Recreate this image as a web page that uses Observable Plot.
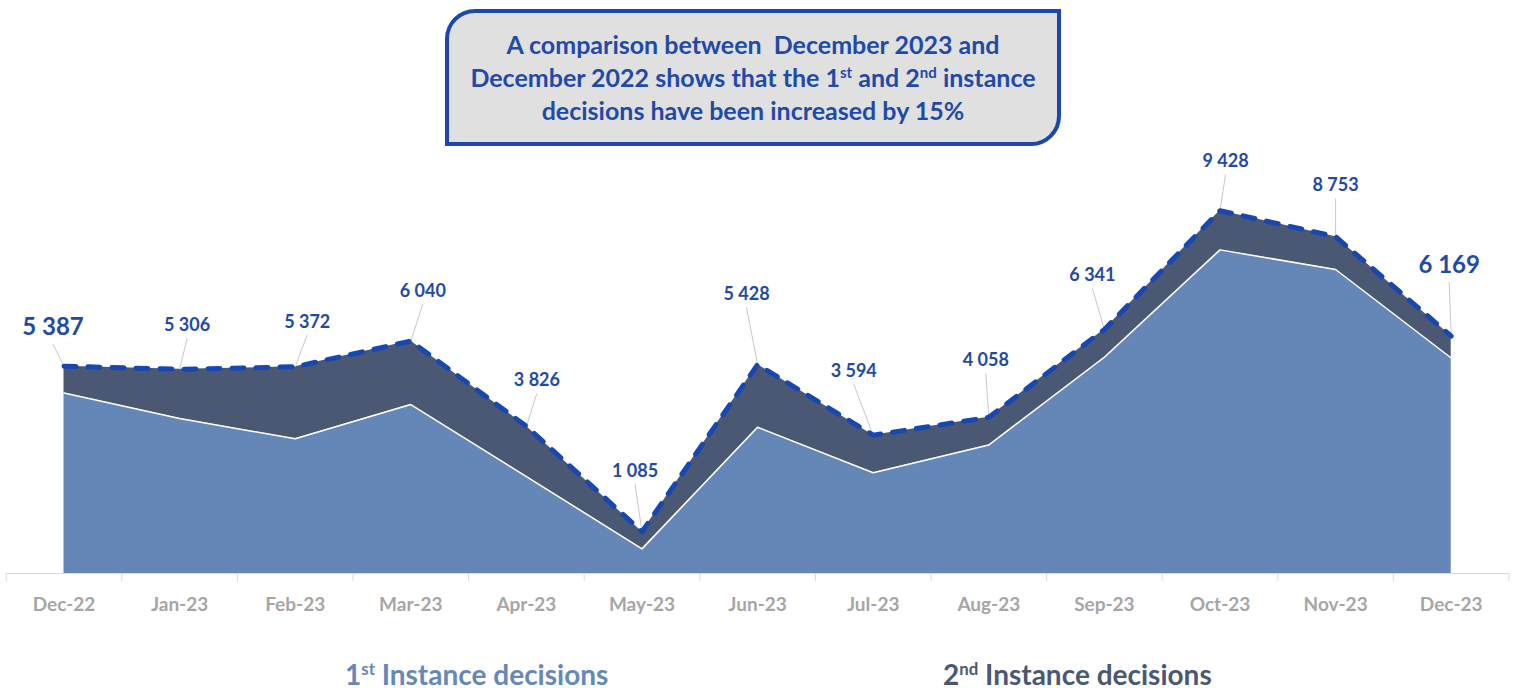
<!DOCTYPE html>
<html><head><meta charset="utf-8">
<script src="https://cdn.jsdelivr.net/npm/d3@7"></script>
<script src="https://cdn.jsdelivr.net/npm/@observablehq/plot@0.6"></script>
<style>
html,body{margin:0;padding:0;background:#fff;}
body{width:1533px;height:688px;overflow:hidden;font-family:Lato,"Open Sans",sans-serif;}
#title{position:relative;height:150px;}
#box{position:absolute;left:445px;top:9px;width:616px;height:137px;box-sizing:border-box;border:4px solid #1c48ae;background:#e0e0e0;border-radius:30px 0 30px 0;display:flex;align-items:center;justify-content:center;text-align:center;color:#1f4aa8;font-weight:700;font-size:25px;line-height:33px;}
#chart{height:480px;}
#legend{position:relative;height:58px;}
.leg{position:absolute;top:29px;font-weight:700;font-size:28px;line-height:30px;white-space:nowrap;}
sup{font-size:60%;line-height:0;vertical-align:super;}
</style></head>
<body>
<div id="title"><div id="box"><div>A comparison between&nbsp; December 2023 and<br>December 2022 shows that the 1<sup>st</sup> and 2<sup>nd</sup> instance<br>decisions have been increased by 15%</div></div></div>
<div id="chart"></div>
<div id="legend">
<span class="leg" style="left:345px;color:#6688b8">1<sup>st</sup> Instance decisions</span>
<span class="leg" style="left:943px;color:#4a5874">2<sup>nd</sup> Instance decisions</span>
</div>
<script>
const months = ["Dec-22","Jan-23","Feb-23","Mar-23","Apr-23","May-23","Jun-23","Jul-23","Aug-23","Sep-23","Oct-23","Nov-23","Dec-23"];
const firstInstance = [4690, 4030, 3500, 4390, 2520, 640, 3800, 2620, 3340, 5620, 8410, 7900, 5600];
const secondInstance = [697, 1276, 1872, 1650, 1306, 445, 1628, 974, 718, 721, 1018, 853, 569];
const seriesNames = ["1st Instance decisions", "2nd Instance decisions"];
// label placement offsets in pixels (layout, not data)
const labelOffsets = [[-11,-39],[7.5,-44],[12,-45],[12,-50],[10.5,-46],[-7,-61],[-11,-70],[-19.5,-64],[-3,-57],[-12,-54],[5.5,-49],[0,-51],[-2,-71]];

const W = 1533, H = 480;
const xRange = [5.7, 1508.5], yRange = [423, 38.2];
const pxX = (xRange[1] - xRange[0]) / 13;
const pxY = (yRange[0] - yRange[1]) / 10000;

const rows = months.flatMap((m, i) => [
  {i, series: seriesNames[0], value: firstInstance[i]},
  {i, series: seriesNames[1], value: secondInstance[i]}
]);
const totals = months.map((m, i) => ({i, first: firstInstance[i], total: firstInstance[i] + secondInstance[i], big: i === 0 || i === months.length - 1}));
const fmt = n => d3.format(",")(n).replace(/,/g, " ");
const lx = d => d.i + labelOffsets[d.i][0] / pxX;
const ly = d => d.total - labelOffsets[d.i][1] / pxY;
const leadY = d => d.total - (labelOffsets[d.i][1] + (d.big ? 17 : 13)) / pxY;

const chart = Plot.plot({
  width: W, height: H,
  marginLeft: 0, marginRight: 0, marginTop: yRange[1], marginBottom: H - yRange[0],
  style: {fontFamily: "Lato, 'Open Sans', sans-serif", fontWeight: "bold", background: "white", overflow: "visible"},
  x: {type: "linear", domain: [-0.5, 12.5], range: xRange, axis: null},
  y: {domain: [0, 10000], range: yRange, axis: null},
  color: {domain: seriesNames, range: ["#6587b7", "#4a5874"]},
  marks: [
    Plot.ruleY([0], {x1: -0.5, x2: 12.5, stroke: "#d9d9d9", strokeWidth: 1}),
    Plot.axisX(d3.range(14).map(i => i - 0.5), {tickSize: 8, tickFormat: () => "", stroke: "#d9d9d9", label: null}),
    Plot.areaY(rows, {x: "i", y: "value", fill: "series"}),
    Plot.lineY(totals, {x: "i", y: "first", stroke: "white", strokeWidth: 1.5}),
    Plot.link(totals, {x1: "i", y1: "total", x2: lx, y2: leadY, stroke: "#c8c8c8", strokeWidth: 1}),
    Plot.lineY(totals, {x: "i", y: "total", stroke: "#1747b0", strokeWidth: 5, strokeDasharray: "12,12", strokeLinecap: "round", strokeLinejoin: "round"}),
    Plot.text(totals, {x: lx, y: ly, text: d => fmt(d.total), fill: "#1f4aa8", fontWeight: "bold", fontSize: d => d.big ? 24 : 18, textAnchor: "middle", lineAnchor: "middle"}),
    Plot.axisX(d3.range(13), {tickSize: 0, tickPadding: 24, tickFormat: i => months[i], fill: "#a6a6a6", fontSize: 19, fontWeight: "bold", label: null})
  ]
});
document.getElementById("chart").appendChild(chart);
</script>
</body></html>
